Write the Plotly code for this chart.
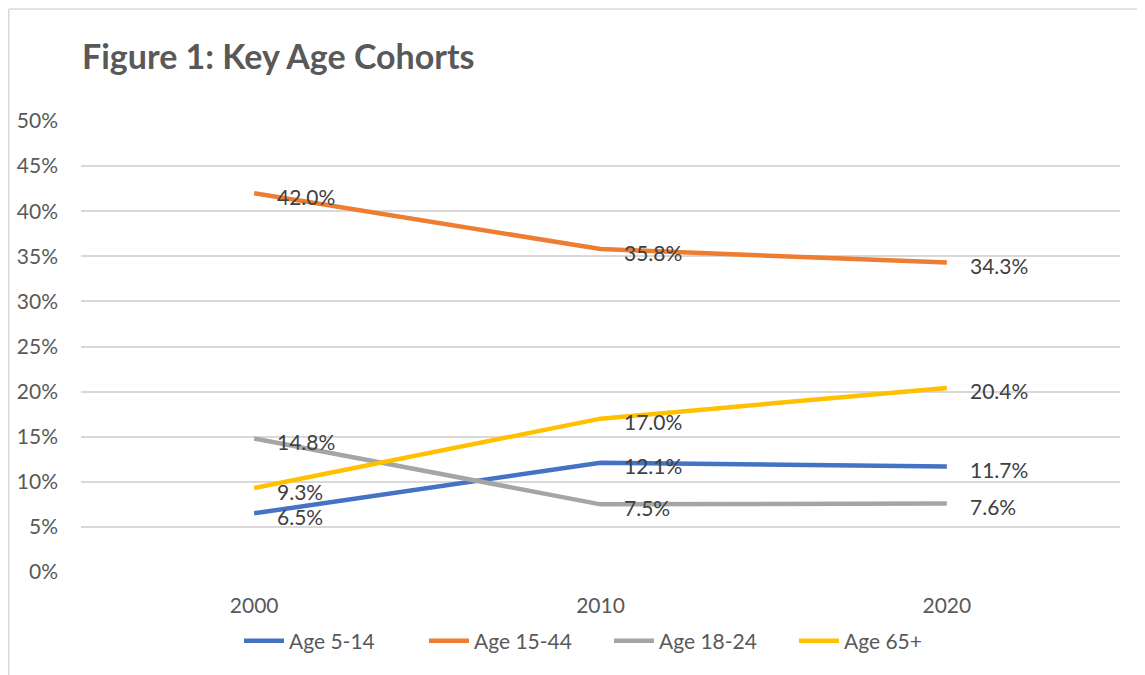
import plotly.graph_objects as go

years = ["2000", "2010", "2020"]
series_names = ["Age 5-14", "Age 15-44", "Age 18-24", "Age 65+"]
age_5_14 = [6.5, 12.1, 11.7]
age_15_44 = [42.0, 35.8, 34.3]
age_18_24 = [14.8, 7.5, 7.6]
age_65_plus = [9.3, 17.0, 20.4]
colors = ["#4472C4", "#ED7D31", "#A5A5A5", "#FFC000"]

FONT = "Lato, 'Open Sans', sans-serif"
W, H = 1137, 667
L, R, T, B = 73, 25, 113, 103
PW = W - L - R
PH = H - T - B

fig = go.Figure()
annotations = []
for name, vals, col in zip(series_names, [age_5_14, age_15_44, age_18_24, age_65_plus], colors):
    fig.add_trace(go.Scatter(
        x=years, y=vals, name=name, mode="lines",
        line=dict(color=col, width=4.5),
        hoverinfo="skip",
    ))
    for i, v in enumerate(vals):
        annotations.append(dict(
            x=i, y=v, xref="x", yref="y", text=f"{v:.1f}%", showarrow=False,
            xanchor="left", yanchor="middle", xshift=21, yshift=-3,
            font=dict(family=FONT, size=21, color="#404040"),
        ))

fig.update_layout(
    width=W, height=H,
    margin=dict(l=L, r=R, t=T, b=B),
    paper_bgcolor="white", plot_bgcolor="white",
    font=dict(family=FONT, size=21, color="#595959"),
    title=dict(text="<b>Figure 1: Key Age Cohorts</b>", x=74/W, xanchor="left",
               y=1 - 49/H, yanchor="middle", yref="container",
               font=dict(family=FONT, size=34, color="#595959")),
    showlegend=True,
    legend=dict(orientation="h", x=(601 - L)/PW, xanchor="center",
                y=(T + PH - 633)/PH, yanchor="middle",
                font=dict(family=FONT, size=21, color="#595959"), itemwidth=40,
                entrywidth=130, entrywidthmode="pixels",
                traceorder="normal"),
    xaxis=dict(type="category", range=[-0.5, 2.5], showgrid=False, zeroline=False,
               showline=False, ticks="", ticklabelstandoff=19, automargin=False,
               tickfont=dict(family=FONT, size=21, color="#595959")),
    yaxis=dict(range=[0, 50], dtick=5, ticksuffix="%", showgrid=True,
               gridcolor="#D9D9D9", gridwidth=1.5, zeroline=False, showline=False,
               ticks="", ticklabelstandoff=22, automargin=False,
               tickfont=dict(family=FONT, size=21, color="#595959")),
    annotations=annotations,
)

# chart border (left and top visible)
bx = (0.75 - L) / PW
ty = (T + PH - 1) / PH
fig.add_shape(type="line", xref="paper", yref="paper", x0=bx, x1=bx,
              y0=ty, y1=(T + PH - H - 5) / PH, line=dict(color="#D9D9D9", width=1.5))
fig.add_shape(type="line", xref="paper", yref="paper", x0=bx, x1=(W + 5 - L) / PW,
              y0=ty, y1=ty, line=dict(color="#D9D9D9", width=1.5))

fig.write_html("out.html")
